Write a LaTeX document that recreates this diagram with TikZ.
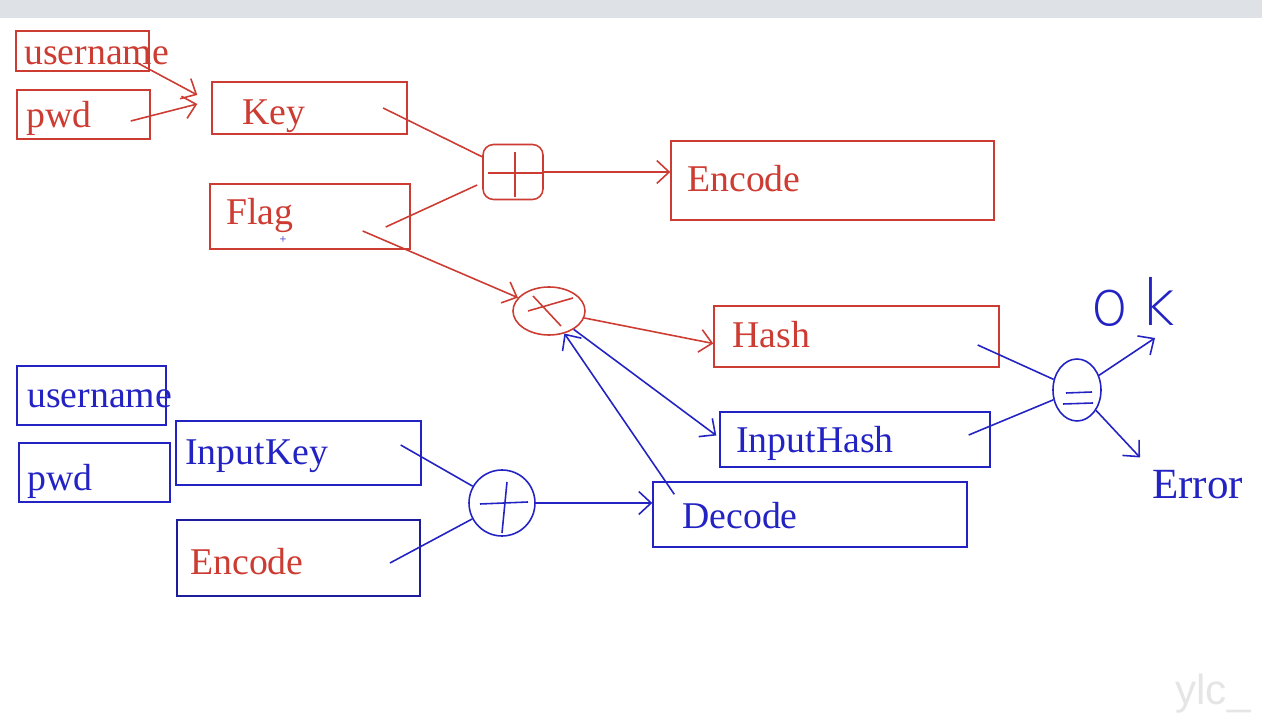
\documentclass[tikz,border=0pt]{standalone}
\usepackage{fontspec}
\setmainfont{Liberation Serif}
\usetikzlibrary{arrows.meta,shapes.geometric}
\definecolor{rosso}{RGB}{205,60,50}
\definecolor{blu}{RGB}{35,35,195}
\definecolor{barra}{RGB}{222,225,230}
\tikzset{
  bx/.style 2 args={draw, rectangle, inner sep=0pt, line width=0.8pt,
    minimum width=#1*0.02cm, minimum height=#2*0.02cm},
  txt/.style={inner sep=0pt, anchor=base west, font=\fontsize{21.5}{26}\selectfont},
  op/.style={draw, inner sep=0pt, line width=0.9pt},
  lnk/.style={line width=0.9pt},
  freccia/.style={lnk, -{Straight Barb[length=7pt,width=13pt]}},
}
\begin{document}
\begin{tikzpicture}[x=0.02cm, y=-0.02cm]
  \useasboundingbox (0,0) rectangle (1262,722);
  \fill[barra] (0,0) rectangle (1262,18);

  % riquadri rossi
  \node[bx={133}{40}, draw=rosso] (uname) at (82.5,51) {};
  \node[bx={133}{49}, draw=rosso] (pwd) at (83.5,114.5) {};
  \node[bx={195}{52}, draw=rosso] (key) at (309.5,108) {};
  \node[bx={200}{65}, draw=rosso] (flag) at (310,216.5) {};
  \node[bx={323}{79}, draw=rosso] (enc) at (832.5,180.5) {};
  \node[bx={285}{61}, draw=rosso] (hash) at (856.5,336.5) {};

  % riquadri blu
  \node[bx={149}{59}, draw=blu] (uname2) at (91.5,395.5) {};
  \node[bx={151}{59}, draw=blu] (pwd2) at (94.5,472.5) {};
  \node[bx={245}{64}, draw=blu] (ikey) at (298.5,453) {};
  \node[bx={243}{76}, draw=blu!80!black, line width=1.1pt] (enc2) at (298.5,558) {};
  \node[bx={270}{55}, draw=blu] (ihash) at (855,439.5) {};
  \node[bx={314}{65}, draw=blu] (dec) at (810,514.5) {};

  % testi
  \node[txt, rosso] (unameT) at (24,65) {username};
  \node[txt, rosso] (pwdT) at (26,128) {pwd};
  \node[txt, rosso] (keyT) at (242,125) {Key};
  \node[txt, rosso] (flagT) at (226,225) {Flag};
  \node[txt, rosso] (encT) at (687,192) {Encode};
  \node[txt, rosso] (hashT) at (732,348) {Hash};
  \node[txt, blu] (uname2T) at (27,408) {username};
  \node[txt, blu] (pwd2T) at (27,491) {pwd};
  \node[txt, blu] (ikeyT) at (185,465) {InputKey};
  \node[txt, rosso] (enc2T) at (190,575) {Encode};
  \node[txt, blu] (ihashT) at (736,453) {InputHash};
  \node[txt, blu] (decT) at (682,529) {Decode};
  \node[txt, blu, font=\fontsize{24.5}{28}\selectfont] (err) at (1152,499) {Error};
  \node[blu, inner sep=0pt, font=\fontsize{36}{36}\fontspec{DejaVu Sans ExtraLight}] (ok) at (1133,302) {o\,k};
  \node[blu, inner sep=0pt, font=\scriptsize] (cur) at (283,240) {+};
  \node[black!10, inner sep=0pt, font=\fontsize{24}{24}\fontspec{Liberation Sans}] (wm) at (1213,694) {ylc\_};
  \coordinate (okp) at (1155,338);

  % operatori
  \node[op, rosso, rectangle, rounded corners=6pt, minimum width=60*0.02cm, minimum height=55*0.02cm] (plusR) at (513,172) {};
  \node[op, rosso, ellipse, minimum width=72*0.02cm, minimum height=48*0.02cm] (timesR) at (549,311) {};
  \node[op, blu, ellipse, minimum width=66*0.02cm, minimum height=66*0.02cm] (plusB) at (502,503) {};
  \node[op, blu, ellipse, minimum width=48*0.02cm, minimum height=62*0.02cm] (eqB) at (1077,390) {};
  \draw[lnk, rosso] ([shift={(2,-20)}]plusR.center) -- ([shift={(2,25)}]plusR.center);
  \draw[lnk, rosso] ([shift={(-25,1)}]plusR.center) -- ([shift={(29,1)}]plusR.center);
  \draw[lnk, rosso] ([shift={(-21,0)}]timesR.center) -- ([shift={(24,-13)}]timesR.center);
  \draw[lnk, rosso] ([shift={(-16,-15)}]timesR.center) -- ([shift={(12,15)}]timesR.center);
  \draw[lnk, blu] ([shift={(5,-21)}]plusB.center) -- ([shift={(0,30)}]plusB.center);
  \draw[lnk, blu] ([shift={(-22,1)}]plusB.center) -- ([shift={(26,-1)}]plusB.center);
  \draw[lnk, blu] ([shift={(-11,3)}]eqB.center) -- ([shift={(15,2)}]eqB.center);
  \draw[lnk, blu] ([shift={(-14,14)}]eqB.center) -- ([shift={(16,13)}]eqB.center);

  % collegamenti rossi
  \draw[freccia, rosso] ([shift={(-14,11)}]uname.east) -- ([shift={(-14,-13)}]key.west);
  \draw[freccia, rosso] ([shift={(-20,6.5)}]pwd.east) -- ([shift={(-14,-4)}]key.west);
  \draw[lnk, rosso] ([xshift=-14]key.east) -- (plusR);
  \draw[lnk, rosso] ([shift={(-25,10.5)}]flag.east) -- ([shift={(-5,13)}]plusR.west);
  \draw[freccia, rosso] (plusR.east) -- (plusR.east -| enc.west);
  \draw[freccia, rosso] ([shift={(-48,14.5)}]flag.east) -- (timesR);
  \draw[freccia, rosso] (timesR) -- ([yshift=-4]hash.west);

  % collegamenti blu
  \draw[freccia, blu] (timesR) -- ([shift={(-3,-4)}]ihash.west);
  \draw[freccia, blu] ([shift={(22,13)}]dec.north west) -- (timesR);
  \draw[lnk, blu] ([shift={(-21,-8)}]ikey.east) -- (plusB);
  \draw[lnk, blu] ([shift={(-31,5)}]enc2.east) -- (plusB);
  \draw[freccia, blu] (plusB.east) -- (plusB.east -| dec.west);
  \draw[lnk, blu] ([shift={(-22,8.5)}]hash.east) -- (eqB);
  \draw[lnk, blu] ([shift={(-22,-4.5)}]ihash.east) -- (eqB);
  \draw[freccia, blu] (eqB) -- (okp);
  \draw[freccia, blu] (eqB) -- ([shift={(-12,-13)}]err.north west);
\end{tikzpicture}
\end{document}
